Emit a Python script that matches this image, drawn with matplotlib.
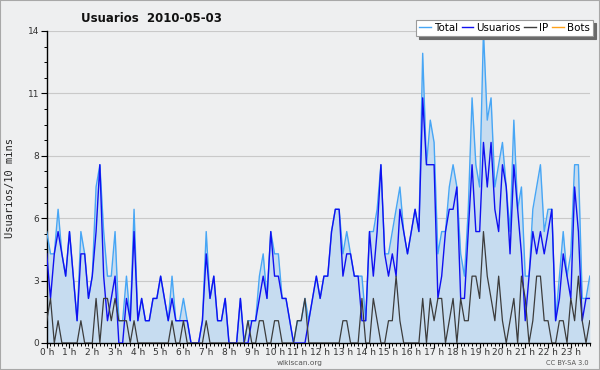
import numpy as np
import matplotlib
matplotlib.use('Agg')
import matplotlib.pyplot as plt
from matplotlib.lines import Line2D
from matplotlib.patches import Rectangle
from matplotlib.ticker import FixedLocator, MultipleLocator

# values per 10-minute slot, 0h .. 23h50 (144 slots)
total = [5, 4, 4, 6, 4, 3, 5, 3, 1, 5, 4, 2,
         3, 7, 8, 5, 3, 3, 5, 1, 1, 3, 1, 6,
         1, 2, 1, 1, 2, 2, 3, 2, 1, 3, 1, 1,
         2, 1, 0, 0, 0, 1, 5, 2, 3, 1, 1, 2,
         0, 0, 0, 2, 0, 1, 1, 1, 3, 4, 2, 5,
         4, 4, 2, 2, 1, 0, 1, 1, 2, 1, 2, 3,
         2, 3, 3, 5, 6, 6, 4, 5, 4, 3, 3, 3,
         1, 5, 5, 6, 8, 4, 4, 5, 6, 7, 5, 4,
         5, 6, 5, 13, 8, 10, 9, 4, 5, 5, 7, 8,
         7, 4, 3, 6, 11, 8, 7, 14, 10, 11, 7, 8,
         9, 7, 5, 10, 6, 7, 3, 3, 6, 7, 8, 5,
         6, 6, 1, 3, 5, 3, 4, 8, 8, 2, 2, 3]
usuarios = [4, 2, 4, 5, 4, 3, 5, 3, 1, 4, 4, 2,
            3, 5, 8, 3, 1, 2, 3, 0, 0, 2, 1, 5,
            1, 2, 1, 1, 2, 2, 3, 2, 1, 2, 1, 1,
            1, 1, 0, 0, 0, 1, 4, 2, 3, 1, 1, 2,
            0, 0, 0, 2, 0, 0, 1, 1, 2, 3, 2, 5,
            3, 3, 2, 2, 1, 0, 0, 0, 0, 1, 2, 3,
            2, 3, 3, 5, 6, 6, 3, 4, 4, 3, 3, 1,
            1, 5, 3, 5, 8, 4, 3, 4, 3, 6, 5, 4,
            5, 6, 5, 11, 8, 8, 8, 2, 3, 5, 6, 6,
            7, 2, 2, 5, 8, 5, 5, 9, 7, 9, 6, 5,
            8, 7, 4, 8, 6, 4, 1, 3, 5, 4, 5, 4,
            5, 6, 1, 2, 4, 3, 2, 7, 5, 1, 2, 2]
ip = [1, 2, 0, 1, 0, 0, 0, 0, 0, 1, 0, 0,
      0, 2, 0, 2, 2, 1, 2, 1, 1, 1, 0, 1,
      0, 0, 0, 0, 0, 0, 0, 0, 0, 1, 0, 0,
      1, 0, 0, 0, 0, 0, 1, 0, 0, 0, 0, 0,
      0, 0, 0, 0, 0, 1, 0, 0, 1, 1, 0, 0,
      1, 1, 0, 0, 0, 0, 1, 1, 2, 0, 0, 0,
      0, 0, 0, 0, 0, 0, 1, 1, 0, 0, 0, 2,
      0, 0, 2, 1, 0, 0, 1, 1, 3, 1, 0, 0,
      0, 0, 0, 2, 0, 2, 1, 2, 2, 0, 1, 2,
      0, 2, 1, 1, 3, 3, 2, 5, 3, 2, 1, 3,
      1, 0, 1, 2, 0, 3, 2, 0, 1, 3, 3, 1,
      1, 0, 0, 1, 1, 0, 2, 1, 3, 1, 0, 1]
hours = [f"{h} h" for h in range(24)]
series_names = ["Total", "Usuarios", "IP", "Bots"]

bg = '#eeeff0'
c_total = '#47a6f5'
c_users = '#1010f0'
c_ip = '#3c3c3c'
c_bots = '#ffa21a'

W, H = 600, 370
fig = plt.figure(figsize=(6, 3.7), dpi=100, facecolor=bg)
x0, x1, y0, y1 = 46.7, 589.8, 31, 343
ax = fig.add_axes([x0 / W, 1 - y1 / H, (x1 - x0) / W, (y1 - y0) / H])
ax.set_facecolor(bg)

slots = np.arange(len(total))
ax.fill_between(slots, total, 0, color='#c6dcf0', lw=0, zorder=1)
ax.plot(slots, total, color=c_total, lw=1.0, zorder=3)
ax.plot(slots, usuarios, color=c_users, lw=1.0, zorder=4)
ax.plot(slots, ip, color=c_ip, lw=0.9, zorder=5)

ax.set_xlim(0, len(total) - 1)
ax.set_ylim(0, 14)

# y axis: 5 divisions, labels rounded
yt = np.linspace(0, 14, 6)
ax.yaxis.set_major_locator(FixedLocator(yt))
ax.set_yticklabels([f"{int(round(v))}" for v in yt])
ax.yaxis.set_minor_locator(MultipleLocator(0.7))
ax.yaxis.grid(True, color='#c9c9c9', lw=0.8)
ax.set_axisbelow(True)

ax.xaxis.set_major_locator(FixedLocator(np.arange(24) * 6))
ax.set_xticklabels(hours)
ax.xaxis.set_minor_locator(MultipleLocator(1))

ax.tick_params(axis='y', which='major', direction='out', length=4, width=0.8,
               labelsize=6.5, labelcolor='#333333', pad=1.5)
ax.tick_params(axis='x', which='major', direction='out', length=3.5, width=0.8,
               labelsize=6.5, labelcolor='#333333', pad=0)
ax.tick_params(axis='both', which='minor', direction='out', length=2.5, width=0.7)

for s in ['top', 'right']:
    ax.spines[s].set_visible(False)
for s in ['left', 'bottom']:
    ax.spines[s].set_linewidth(1.0)
    ax.spines[s].set_color('black')

fig.text(10 / W, 1 - 188 / H, "Usuarios/10 mins", rotation=90, ha='center', va='center',
         family='DejaVu Sans Mono', fontsize=7.5, color='#222222')
fig.text(151 / W, 1 - 18 / H, "Usuarios  2010-05-03", ha='center', va='center',
         fontsize=8.5, weight='bold', color='#111111')
fig.text(300 / W, 1 - 362.5 / H, "wikiscan.org", ha='center', va='center',
         fontsize=5.3, color='#555555')
fig.text(589 / W, 1 - 363 / H, "CC BY-SA 3.0", ha='right', va='center',
         fontsize=4.8, color='#555555')

handles = [Line2D([], [], color=c, lw=1.0) for c in [c_total, c_users, c_ip, c_bots]]
leg = fig.legend(handles, series_names, loc='upper right', ncol=4,
                 bbox_to_anchor=(593 / W, 1 - 20 / H), bbox_transform=fig.transFigure,
                 borderaxespad=0, fontsize=7.4, handlelength=1.15, handletextpad=0.3,
                 columnspacing=0.35, borderpad=0.3, fancybox=False, framealpha=1,
                 shadow={'color': '#6a6a6a', 'alpha': 1})
leg.get_frame().set_edgecolor('#9a9a9a')
leg.get_frame().set_linewidth(0.8)

fig.patches.append(Rectangle((0, 0), 1, 1, transform=fig.transFigure, fill=False,
                             edgecolor='#a8a8a8', lw=1.5))

fig.savefig('out.png', dpi=100, facecolor=bg)
